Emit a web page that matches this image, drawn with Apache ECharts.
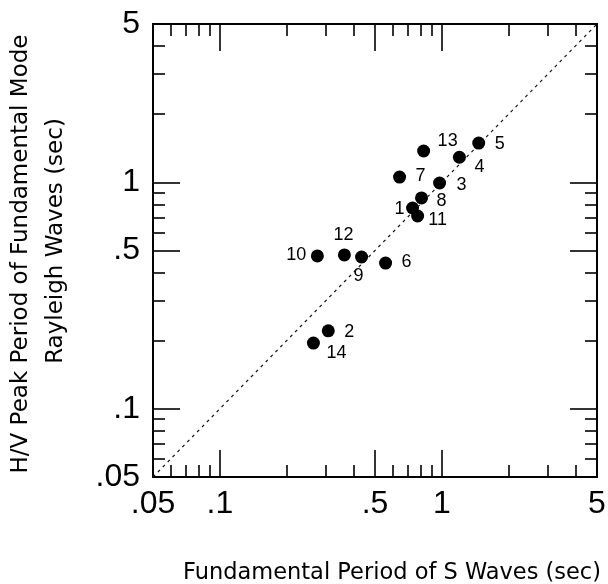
<!DOCTYPE html>
<html>
<head>
<meta charset="utf-8">
<script src="https://cdn.jsdelivr.net/npm/echarts@6/dist/echarts.min.js"></script>
<style>html,body{margin:0;padding:0;background:#fff;}#c{width:608px;height:584px;}</style>
</head>
<body>
<div id="c"></div>
<script>
// ---- data ----
const siteIds   = ['1','2','3','4','5','6','7','8','9','10','11','12','13','14'];
const sPeriod   = [0.738,0.308,0.977,1.20,1.466,0.558,0.645,0.810,0.435,0.275,0.778,0.364,0.828,0.264];
const hvPeriod  = [0.770,0.221,0.993,1.29,1.49,0.440,1.055,0.853,0.468,0.473,0.710,0.478,1.375,0.195];
const axisMin = 0.05, axisMax = 5;
const tickLabels = [0.05, 0.1, 0.5, 1, 5];
const majorTicks = [0.1, 0.5, 1];
const minorTicks = [0.06,0.07,0.08,0.09,0.2,0.3,0.4,0.6,0.7,0.8,0.9,2,3,4];
const oneToOne = [[0.05,0.05],[5,5]];
const xTitle = 'Fundamental Period of S Waves (sec)';
const yTitle1 = 'H/V Peak Period of Fundamental Mode';
const yTitle2 = 'Rayleigh Waves (sec)';

// ---- layout (label offsets in px from point centre) ----
const labelOffsets = {
  '1':[-13,1],'2':[21,1],'3':[22,2],'4':[20,10],'5':[21,1],'6':[21,-1],'7':[21,-1],
  '8':[20,3],'9':[-3,19],'10':[-21,-1],'11':[20,4],'12':[-1,-20],'13':[24,-10],'14':[23,10]
};

const fmt = v => {
  const n = Number(Number(v).toPrecision(3));
  return String(n).replace(/^0\./, '.');
};
const INK = '#000';
const lineStyle = { color: INK, width: 2 };

function mkAxis(pos, kind, isX) {
  const major = kind === 'major';
  const a = {
    type: 'log', logBase: 10, min: axisMin, max: axisMax, position: pos,
    axisLine: { show: true, onZero: false, lineStyle },
    axisTick: { show: true, inside: true, length: major ? 27 : 12,
                customValues: major ? majorTicks : minorTicks,
                lineStyle: { color: INK, width: 1.6 } },
    axisLabel: { show: false },
    splitLine: { show: false },
    minorTick: { show: false }, minorSplitLine: { show: false }
  };
  if (major && (pos === 'bottom' || pos === 'left')) {
    a.axisLabel = {
      show: true, customValues: tickLabels, formatter: fmt,
      fontFamily: '"Liberation Sans", Arial, sans-serif', fontSize: 32, color: INK,
      margin: isX ? 11 : 13, showMinLabel: true, showMaxLabel: true
    };
  }
  return a;
}

const data = siteIds.map((id, i) => ({
  value: [sPeriod[i], hvPeriod[i]],
  name: id,
  label: { offset: labelOffsets[id] }
}));

const chart = echarts.init(document.getElementById('c'), null, { renderer: 'canvas' });
chart.setOption({
  animation: false,
  backgroundColor: '#fff',
  grid: { left: 153, right: 11, top: 24, bottom: 107, containLabel: false, outerBoundsMode: 'none' },
  xAxis: [mkAxis('bottom','major',true), mkAxis('bottom','minor',true), mkAxis('top','major',true), mkAxis('top','minor',true)],
  yAxis: [mkAxis('left','major',false), mkAxis('left','minor',false), mkAxis('right','major',false), mkAxis('right','minor',false)],
  series: [
    {
      type: 'line', data: oneToOne, xAxisIndex: 0, yAxisIndex: 0,
      symbol: 'none', silent: true,
      lineStyle: { color: '#111', width: 1.2, type: [3, 4] }
    },
    {
      type: 'scatter', data, xAxisIndex: 0, yAxisIndex: 0,
      symbolSize: 13, itemStyle: { color: INK, opacity: 1 },
      label: {
        show: true, position: 'inside', formatter: p => p.name, opacity: 1,
        color: INK, fontFamily: '"Liberation Sans", Arial, sans-serif', fontSize: 18,
        textBorderWidth: 0
      }
    }
  ],
  graphic: [
    { type: 'text', x: 392, y: 573, style: { text: xTitle, fill: INK, font: '22.5px "DejaVu Sans"', align: 'center', verticalAlign: 'middle' } },
    { type: 'text', x: 21, y: 254, rotation: Math.PI / 2, style: { text: yTitle1, fill: INK, font: '23px "DejaVu Sans"', align: 'center', verticalAlign: 'middle' } },
    { type: 'text', x: 56, y: 241, rotation: Math.PI / 2, style: { text: yTitle2, fill: INK, font: '23px "DejaVu Sans"', align: 'center', verticalAlign: 'middle' } }
  ]
});
</script>
</body>
</html>
